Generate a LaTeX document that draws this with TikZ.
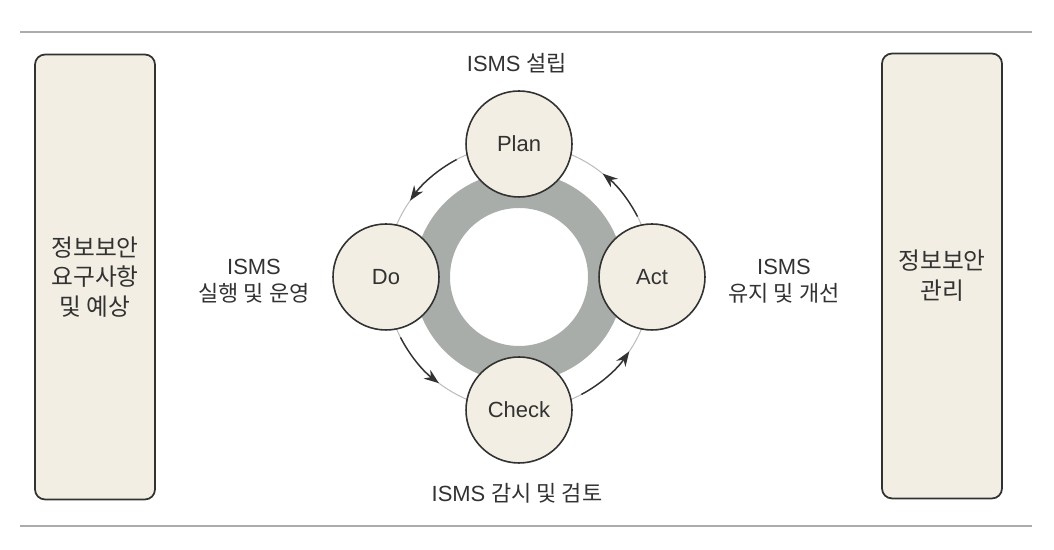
\documentclass[tikz,border=0pt]{standalone}
\usepackage{fontspec}
\setmainfont{Liberation Sans}
\newfontfamily\kr{Noto Sans CJK KR}
\usetikzlibrary{arrows.meta, positioning, calc}
\definecolor{fondo}{RGB}{242,238,228}
\definecolor{anillo}{RGB}{168,173,169}
\definecolor{borde}{RGB}{50,50,50}
\definecolor{orbita}{RGB}{190,190,190}

\begin{document}
\begin{tikzpicture}[x=0.02cm, y=0.02cm,
        fase/.style={circle, draw=borde, line width=0.9pt, fill=fondo, minimum size=2.12cm, inner sep=0pt, font=\fontsize{12.5}{15}\selectfont, text=borde},
        caja/.style={rectangle, rounded corners=0.2cm, draw=borde, line width=1pt, fill=fondo, minimum width=2.4cm, minimum height=8.9cm, align=center, font=\kr\fontsize{13.5}{17}\selectfont, text=borde},
        etiq/.style={align=center, font=\fontsize{12.5}{15.5}\selectfont, text=borde},
        flecha/.style={-{Stealth[length=0.3cm, width=0.22cm]}, line width=0.8pt, draw=borde}]
        \useasboundingbox (0,0) rectangle (1054,550);
        \coordinate (la) at (20,518);
        \coordinate (lb) at (1032,518);
        \coordinate (lc) at (20,24);
        \coordinate (ld) at (1032,24);
        \draw[gray!65, line width=0.8pt] (la) -- (lb);
        \draw[gray!65, line width=0.8pt] (lc) -- (ld);
        \coordinate (ctr) at (519,273);
        \fill[anillo, even odd rule] (ctr) circle[radius=105] (ctr) circle[radius=69];
        \draw[orbita, line width=0.6pt] (ctr) circle[radius=133];
        \coordinate (pd) at ($(ctr)+(118:133)$);
        \coordinate (dc) at ($(ctr)+(207:133)$);
        \coordinate (ca) at ($(ctr)+(298:133)$);
        \coordinate (ap) at ($(ctr)+(27:133)$);
        \draw[flecha] (pd) arc[start angle=118, end angle=145, radius=133];
        \draw[flecha] (dc) arc[start angle=207, end angle=233, radius=133];
        \draw[flecha] (ca) arc[start angle=298, end angle=326, radius=133];
        \draw[flecha] (ap) arc[start angle=27, end angle=51, radius=133];
        \node[fase] (plan) at (519,406) {Plan};
        \node[fase] (do) at (386,273) {Do};
        \node[fase] (act) at (652,273) {Act};
        \node[fase] (check) at (519,140) {Check};
        \node[etiq] (tplan) at (517,487) {ISMS {\kr 설립}};
        \node[etiq] (tcheck) at (517,57) {ISMS {\kr 감시 및 검토}};
        \node[etiq] (tdo) at (254,269) {ISMS\\{\kr 실행 및 운영}};
        \node[etiq] (tact) at (784,269) {ISMS\\{\kr 유지 및 개선}};
        \node[caja] (req) at (95,273) {정보보안\\요구사항\\및 예상};
        \node[caja] (gest) at (942,274) {정보보안\\관리};
    \end{tikzpicture}
\end{document}
